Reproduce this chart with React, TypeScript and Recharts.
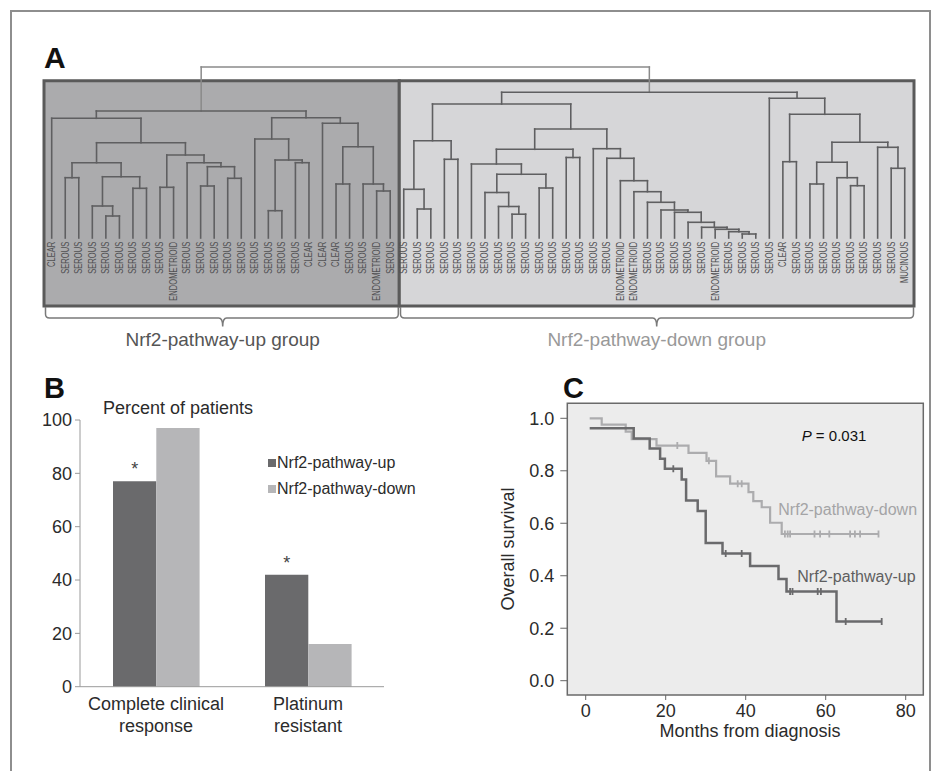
import React from 'react';
import {
  ComposedChart,
  BarChart,
  Bar,
  XAxis,
  YAxis,
  ReferenceLine,
  ReferenceArea,
  Scatter,
  Line,
  LabelList,
  Legend,
} from 'recharts';

const FONT = '"Liberation Sans", Arial, Helvetica, sans-serif';

// ---------------- Panel A: dendrogram ----------------
const leafLabels: string[] = [
  'CLEAR', 'SEROUS', 'SEROUS', 'SEROUS', 'SEROUS', 'SEROUS', 'SEROUS', 'SEROUS', 'SEROUS', 'ENDOMETRIOID',
  'SEROUS', 'SEROUS', 'SEROUS', 'SEROUS', 'SEROUS', 'SEROUS', 'SEROUS', 'SEROUS', 'SEROUS', 'CLEAR',
  'CLEAR', 'CLEAR', 'SEROUS', 'SEROUS', 'ENDOMETRIOID', 'SEROUS',
  'SEROUS', 'SEROUS', 'SEROUS', 'SEROUS', 'SEROUS', 'SEROUS', 'SEROUS', 'SEROUS', 'SEROUS', 'SEROUS',
  'SEROUS', 'SEROUS', 'SEROUS', 'SEROUS', 'SEROUS', 'SEROUS', 'ENDOMETRIOID', 'ENDOMETRIOID',
  'SEROUS', 'SEROUS', 'SEROUS', 'SEROUS', 'SEROUS', 'ENDOMETRIOID', 'SEROUS', 'SEROUS', 'SEROUS', 'SEROUS',
  'CLEAR', 'SEROUS', 'SEROUS', 'SEROUS', 'SEROUS', 'SEROUS', 'SEROUS', 'SEROUS', 'SEROUS', 'MUCINOUS',
];

type Tree = number | [Tree, Tree, number];

// merge structure: [left child, right child, merge height]; numbers are leaf indices
const upGroupTree: Tree = [
  [0,
    [
      [[1, 2, 60.3], [[3, [4, 5, 22], 32], [6, 7, 49.7], 61.3], 75.3],
      [[8, 9, 50.7], [10, [[11, 12, 52], [13, 14, 59.7], 71.3], 75.3], 83],
      95.3,
    ],
    119.7],
  [
    [15, [[16, 17, 27.3], [18, 19, 75.3], 78], 99],
    [20, [[21, 22, 54], [23, [24, 25, 47], 54], 91.3], 114.7],
    120.3,
  ],
  127,
];

const downGroupTree: Tree = [
  [
    [[26, [27, 28, 29], 48.7], [29, 30, 78.7], 97.3],
    [
      [[31, [[32, [33, [34, 35, 23.8], 31.5], 45.5], [36, 37, 50], 63.7], 74], [38, 39, 80.5], 88.7],
      [40, [41, [42, [43, [44, [45, [46, [47, [48, [49, [50, [51, 52, 4], 6.3], 8.7], 10.7], 15.7], 25.7], 28], 35.7], 46.3], 57.3], 79.7], 89.3],
      109,
    ],
    134,
  ],
  [53, [[54, 55, 76.3], [[[56, 57, 54], [58, [59, 60, 52.3], 60.3], 75.7], [61, [62, 63, 69.7], 90.7], 95.7], 123.7], 139.7],
  145.7,
];

const rootHeight = 171;

type Seg = { x1: number; y1: number; x2: number; y2: number };

function buildLinks(t: Tree, out: Seg[]): { x: number; h: number } {
  if (typeof t === 'number') return { x: t, h: 0 };
  const a = buildLinks(t[0], out);
  const b = buildLinks(t[1], out);
  const h = t[2];
  out.push({ x1: a.x, y1: a.h, x2: a.x, y2: h });
  out.push({ x1: b.x, y1: b.h, x2: b.x, y2: h });
  out.push({ x1: a.x, y1: h, x2: b.x, y2: h });
  return { x: (a.x + b.x) / 2, h };
}

const groupLinks: Seg[] = [];
const upPos = buildLinks(upGroupTree, groupLinks);
const downPos = buildLinks(downGroupTree, groupLinks);
const rootLinks: Seg[] = [
  { x1: upPos.x, y1: upPos.h, x2: upPos.x, y2: rootHeight },
  { x1: downPos.x, y1: downPos.h, x2: downPos.x, y2: rootHeight },
  { x1: upPos.x, y1: rootHeight, x2: downPos.x, y2: rootHeight },
];
const leafData = leafLabels.map((label, i) => ({ x: i, h: 0, label }));

// ---------------- Panel B: bars ----------------
const categories = ['Complete clinical response', 'Platinum resistant'];
const categoryLines = [['Complete clinical', 'response'], ['Platinum', 'resistant']];
const upPercent = [77, 42];
const downPercent = [97, 16];
const significance = ['*', '*'];
const percentTicks = [0, 20, 40, 60, 80, 100];
const barData = categories.map((name, i) => ({
  name,
  up: upPercent[i],
  down: downPercent[i],
  mark: significance[i],
}));

// ---------------- Panel C: survival ----------------
const upMonths = [1, 12, 16, 18.6, 19.8, 24, 25.1, 28, 30, 34.2, 41.1, 48.2, 50.2, 62.7, 74];
const upSurv = [0.962, 0.923, 0.885, 0.846, 0.808, 0.767, 0.687, 0.647, 0.525, 0.485, 0.437, 0.388, 0.34, 0.226, 0.226];
const upCensorMonths = [21.9, 35, 39, 51.1, 51.7, 58, 58.8, 65, 74];
const upCensorSurv = [0.808, 0.485, 0.485, 0.34, 0.34, 0.34, 0.34, 0.226, 0.226];

const downMonths = [1, 4, 10, 11.5, 17.7, 25.7, 30.2, 32.6, 36.1, 40.7, 41.9, 44, 46.1, 49, 73.2];
const downSurv = [1.0, 0.976, 0.949, 0.921, 0.896, 0.868, 0.838, 0.779, 0.751, 0.719, 0.684, 0.661, 0.602, 0.559, 0.559];
const downCensorMonths = [22.9, 30.8, 38, 39, 49.8, 50.5, 51.1, 57.2, 58.6, 60.9, 66.1, 67.3, 68.6, 73.2];
const downCensorSurv = [0.896, 0.838, 0.751, 0.751, 0.559, 0.559, 0.559, 0.559, 0.559, 0.559, 0.559, 0.559, 0.559, 0.559];

const monthTicks = [0, 20, 40, 60, 80];
const survTicks = [0, 0.2, 0.4, 0.6, 0.8, 1.0];

const upLine = upMonths.map((m, i) => ({ m, s: upSurv[i] }));
const downLine = downMonths.map((m, i) => ({ m, s: downSurv[i] }));
const upCensor = upCensorMonths.map((m, i) => ({ m, s: upCensorSurv[i] }));
const downCensor = downCensorMonths.map((m, i) => ({ m, s: downCensorSurv[i] }));

const UP_DARK = '#6a6a6c';
const DOWN_LIGHT = '#b6b6b8';

const LeafLabel = (props: any) => {
  const { cx, cy } = props;
  const label = props.payload?.label ?? props.label;
  if (cx == null || cy == null) return <g />;
  const y = cy + 3.7;
  return (
    <text
      x={0}
      y={0}
      transform={`translate(${cx} ${y}) rotate(-90) scale(0.76 1)`}
      textAnchor="end"
      dominantBaseline="central"
      fontSize={10}
      fill="#505052"
      fontFamily={FONT}
    >
      {label}
    </text>
  );
};

const censorShape = (color: string) => (props: any) => {
  const { cx, cy } = props;
  if (cx == null || cy == null) return <g />;
  return <line x1={cx} y1={cy - 3.5} x2={cx} y2={cy + 3.5} stroke={color} strokeWidth={1.8} />;
};

const CategoryTick = (props: any) => {
  const { x, y, payload } = props;
  const idx = categories.indexOf(payload.value);
  const lines = categoryLines[idx] || [payload.value];
  return (
    <text x={x} y={y} textAnchor="middle" fontSize={18} fill="#2b2b2b" fontFamily={FONT}>
      {lines.map((l, i) => (
        <tspan key={i} x={x} dy={i === 0 ? 23.5 : 21.5}>
          {l}
        </tspan>
      ))}
    </text>
  );
};

const BarLegend = () => (
  <div style={{ fontFamily: FONT, fontSize: 16, color: '#2b2b2b' }}>
    {[
      { name: 'Nrf2-pathway-up', color: UP_DARK },
      { name: 'Nrf2-pathway-down', color: DOWN_LIGHT },
    ].map((it) => (
      <div key={it.name} style={{ display: 'flex', alignItems: 'center', height: 26.3, whiteSpace: 'nowrap' }}>
        <span style={{ display: 'inline-block', width: 8, height: 8, background: it.color, marginRight: 1 }} />
        <span>{it.name}</span>
      </div>
    ))}
  </div>
);

const abs = (left: number, top: number, extra: React.CSSProperties = {}): React.CSSProperties => ({
  position: 'absolute',
  left,
  top,
  ...extra,
});

export default function App() {
  return (
    <div
      style={{
        position: 'absolute',
        left: 0,
        top: 0,
        width: 938,
        height: 771,
        overflow: 'hidden',
        background: '#ffffff',
        fontFamily: FONT,
      }}
    >
      {/* outer frame */}
      <div style={abs(10, 10, { width: 917, height: 800, border: '2px solid #8e8e8e' })} />

      {/* Panel letters */}
      <div style={abs(44, 42, { fontSize: 30, fontWeight: 'bold', color: '#111', lineHeight: '32px' })}>A</div>
      <div style={abs(44, 372, { fontSize: 29, fontWeight: 'bold', color: '#111', lineHeight: '32px' })}>B</div>
      <div style={abs(563, 372, { fontSize: 29, fontWeight: 'bold', color: '#111', lineHeight: '32px' })}>C</div>

      {/* Panel A dendrogram */}
      <div style={abs(40, 63)}>
        <ComposedChart width={878} height={247} margin={{ top: 4, right: 4, bottom: 4, left: 4 }}>
          <XAxis type="number" dataKey="x" domain={[-0.5687, 63.685]} allowDataOverflow hide />
          <YAxis type="number" dataKey="h" domain={[-68, 171]} allowDataOverflow hide />
          <ReferenceArea
            x1={-0.5687}
            x2={25.67}
            y1={-68}
            y2={157.3}
            fill="#ababad"
            fillOpacity={1}
            stroke="#5a5a5a"
            strokeWidth={3}
            ifOverflow="visible"
          />
          <ReferenceArea
            x1={25.67}
            x2={63.685}
            y1={-68}
            y2={157.3}
            fill="#d6d6d8"
            fillOpacity={1}
            stroke="#5a5a5a"
            strokeWidth={3}
            ifOverflow="visible"
          />
          {rootLinks.map((s, i) => (
            <ReferenceLine
              key={'r' + i}
              segment={[{ x: s.x1, y: s.y1 }, { x: s.x2, y: s.y2 }]}
              stroke="#8a8a8a"
              strokeWidth={1.5}
              strokeLinecap="square"
              ifOverflow="visible"
            />
          ))}
          {groupLinks.map((s, i) => (
            <ReferenceLine
              key={'g' + i}
              segment={[{ x: s.x1, y: s.y1 }, { x: s.x2, y: s.y2 }]}
              stroke="#5f5f61"
              strokeWidth={1.6}
              strokeLinecap="square"
              ifOverflow="visible"
            />
          ))}
          <Scatter data={leafData} shape={LeafLabel} isAnimationActive={false} />
        </ComposedChart>
      </div>

      {/* group brackets */}
      <svg style={abs(0, 0)} width={938} height={340}>
        <path
          d="M45.5,307 L45.5,314 Q45.5,318 49.5,318 L218.7,318 Q222.7,318 222.7,326.5 Q222.7,318 226.7,318 L394.3,318 Q398.3,318 398.3,314 L398.3,307"
          fill="none"
          stroke="#7a7a7a"
          strokeWidth={1.5}
        />
        <path
          d="M400.5,307 L400.5,314 Q400.5,318 404.5,318 L652.7,318 Q656.7,318 656.7,326.5 Q656.7,318 660.7,318 L909.5,318 Q913.5,318 913.5,314 L913.5,307"
          fill="none"
          stroke="#7a7a7a"
          strokeWidth={1.5}
        />
      </svg>
      <div style={abs(72.7, 328, { width: 300, textAlign: 'center', fontSize: 19, color: '#555', lineHeight: '24px' })}>
        Nrf2-pathway-up group
      </div>
      <div style={abs(506.7, 328, { width: 300, textAlign: 'center', fontSize: 19, color: '#999', lineHeight: '24px' })}>
        Nrf2-pathway-down group
      </div>

      {/* Panel B bar chart */}
      <div style={abs(103, 397, { fontSize: 18, color: '#2b2b2b', lineHeight: '22px', whiteSpace: 'nowrap' })}>
        Percent of patients
      </div>
      <div style={abs(0, 400)}>
        <BarChart
          width={420}
          height={370}
          data={barData}
          margin={{ top: 20, right: 36, bottom: 33.3, left: 20 }}
          barGap={0}
        >
          <XAxis
            xAxisId="edge"
            type="number"
            domain={[0, 2]}
            ticks={[0, 1, 2]}
            allowDataOverflow
            tick={false}
            axisLine={false}
            tickLine={{ stroke: '#9a9a9a' }}
            tickSize={5}
            height={0}
          />
          <XAxis
            xAxisId="cat"
            dataKey="name"
            axisLine={{ stroke: '#9a9a9a' }}
            tickLine={false}
            tickSize={0}
            tickMargin={0}
            tick={CategoryTick}
            height={50}
            interval={0}
          />
          <YAxis
            domain={[0, 100]}
            ticks={percentTicks}
            width={60}
            axisLine={{ stroke: '#9a9a9a' }}
            tickLine={{ stroke: '#9a9a9a' }}
            tickSize={5}
            tickMargin={3}
            tick={{ fontSize: 18, fill: '#2b2b2b', fontFamily: FONT }}
          />
          <Legend
            layout="vertical"
            align="center"
            verticalAlign="middle"
            wrapperStyle={{ left: 268, top: 49.5, width: 160 }}
            content={BarLegend}
          />
          <Bar xAxisId="cat" dataKey="up" fill={UP_DARK} barSize={43.3} isAnimationActive={false}>
            <LabelList dataKey="mark" position="top" offset={6} fontSize={18} fill="#444" fontFamily={FONT} />
          </Bar>
          <Bar xAxisId="cat" dataKey="down" fill={DOWN_LIGHT} barSize={43.3} isAnimationActive={false} />
        </BarChart>
      </div>

      {/* Panel C survival */}
      <div style={abs(460, 380)}>
        <ComposedChart width={478} height={390} margin={{ top: 23.3, right: 14.7, bottom: 35, left: 47.3 }}>
          <XAxis
            type="number"
            dataKey="m"
            domain={[-4.6, 84.4]}
            allowDataOverflow
            ticks={monthTicks}
            axisLine={false}
            tickLine={{ stroke: '#666' }}
            tickSize={5}
            tickMargin={4}
            height={40}
            tick={{ fontSize: 18, fill: '#2b2b2b', fontFamily: FONT }}
          />
          <YAxis
            type="number"
            dataKey="s"
            domain={[-0.0545, 1.0572]}
            allowDataOverflow
            ticks={survTicks}
            tickFormatter={(v: number) => v.toFixed(1)}
            axisLine={false}
            tickLine={{ stroke: '#666' }}
            tickSize={7}
            tickMargin={6}
            width={60}
            tick={{ fontSize: 18, fill: '#2b2b2b', fontFamily: FONT }}
          />
          <ReferenceArea
            x1={-4.6}
            x2={84.4}
            y1={-0.0545}
            y2={1.0572}
            fill="#ececec"
            fillOpacity={1}
            stroke="#6a6a6a"
            strokeWidth={1.5}
            ifOverflow="visible"
          />
          <Line
            data={downLine}
            dataKey="s"
            type="stepAfter"
            stroke="#acacae"
            strokeWidth={2.2}
            dot={false}
            activeDot={false}
            isAnimationActive={false}
          />
          <Scatter data={downCensor} shape={censorShape('#acacae')} isAnimationActive={false} />
          <Line
            data={upLine}
            dataKey="s"
            type="stepAfter"
            stroke="#6a6a6c"
            strokeWidth={2.5}
            dot={false}
            activeDot={false}
            isAnimationActive={false}
          />
          <Scatter data={upCensor} shape={censorShape('#6a6a6c')} isAnimationActive={false} />
        </ComposedChart>
      </div>

      <div style={abs(801.7, 426, { fontSize: 15, color: '#111', lineHeight: '20px', whiteSpace: 'nowrap' })}>
        <i>P</i> = 0.031
      </div>
      <div style={abs(778.3, 500, { fontSize: 16, color: '#a4a4a6', lineHeight: '20px', whiteSpace: 'nowrap' })}>
        Nrf2-pathway-down
      </div>
      <div style={abs(797.3, 566.7, { fontSize: 16, color: '#5e5e60', lineHeight: '20px', whiteSpace: 'nowrap' })}>
        Nrf2-pathway-up
      </div>
      <div style={abs(600, 720, { width: 300, textAlign: 'center', fontSize: 18, color: '#2b2b2b', lineHeight: '22px' })}>
        Months from diagnosis
      </div>
      <div
        style={abs(358, 538, {
          width: 300,
          textAlign: 'center',
          fontSize: 18,
          color: '#2b2b2b',
          lineHeight: '22px',
          transform: 'rotate(-90deg)',
        })}
      >
        Overall survival
      </div>
    </div>
  );
}
